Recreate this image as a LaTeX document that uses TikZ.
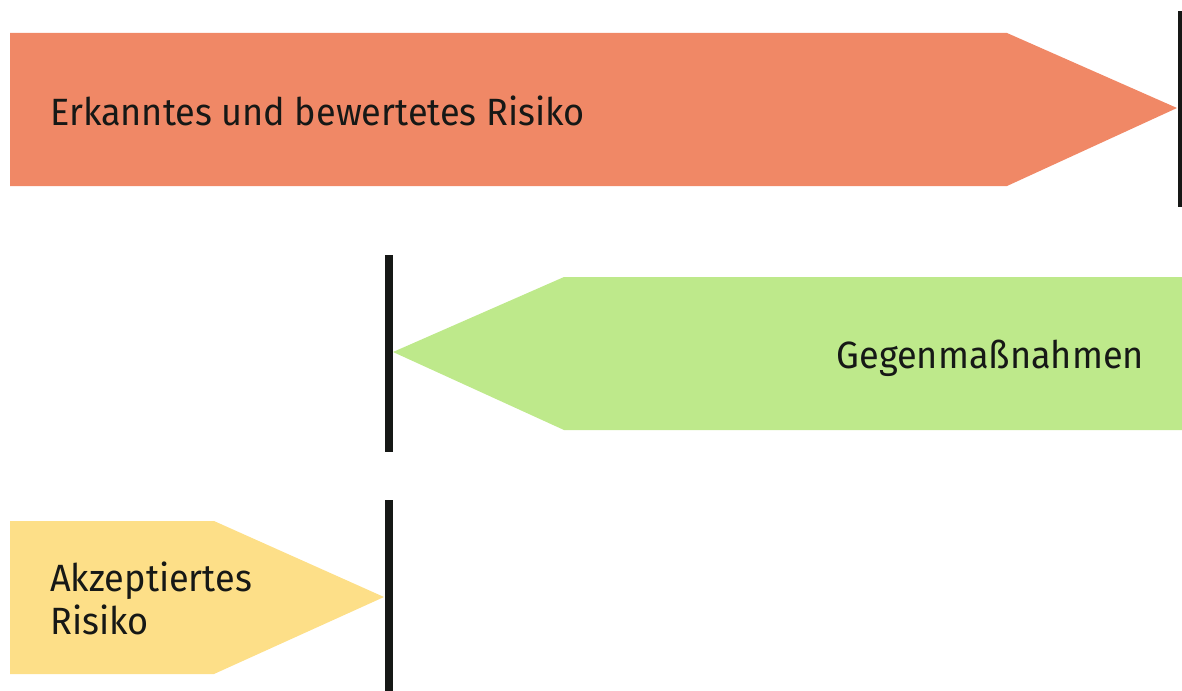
\documentclass[tikz,border=0pt]{standalone}
\usepackage{fontspec}
\setmainfont[FakeStretch=0.95]{Fira Sans}
\definecolor{riskred}{HTML}{F08866}
\definecolor{measgreen}{HTML}{BEE98B}
\definecolor{accyellow}{HTML}{FDDF88}
\definecolor{barblack}{HTML}{161816}
\begin{document}
\begin{tikzpicture}[x=1pt,y=-1pt,
  lbl/.style={font=\fontsize{38}{43}\selectfont, text=barblack, inner sep=0pt},
  limitbar/.style={fill=barblack}]
\useasboundingbox (0,0) rectangle (1182,690);
\begin{scope}
\clip (0,0) rectangle (1182,690);
% identified and assessed risk
\fill[riskred] (10,33) -- (1007,33) -- (1177,108) -- (1007,186) -- (10,186) -- cycle;
\fill[limitbar] (1178,11) rectangle (1186,207);
% countermeasures
\fill[measgreen] (1182,277) -- (564,277) -- (393,352) -- (564,430) -- (1182,430) -- cycle;
\fill[limitbar] (385,255) rectangle (393,452);
% accepted risk
\fill[accyellow] (10,521) -- (214,521) -- (384,597) -- (214,674) -- (10,674) -- cycle;
\fill[limitbar] (385,500) rectangle (393,695);
\end{scope}
\node[lbl, anchor=base west] (risk) at (50,125) {Erkanntes und bewertetes Risiko};
\node[lbl, anchor=base east] (meas) at (1144,368) {Gegenmaßnahmen};
\node[lbl, anchor=base west, align=left] (acc) at (50,634) {Akzeptiertes\\Risiko};
\end{tikzpicture}
\end{document}
